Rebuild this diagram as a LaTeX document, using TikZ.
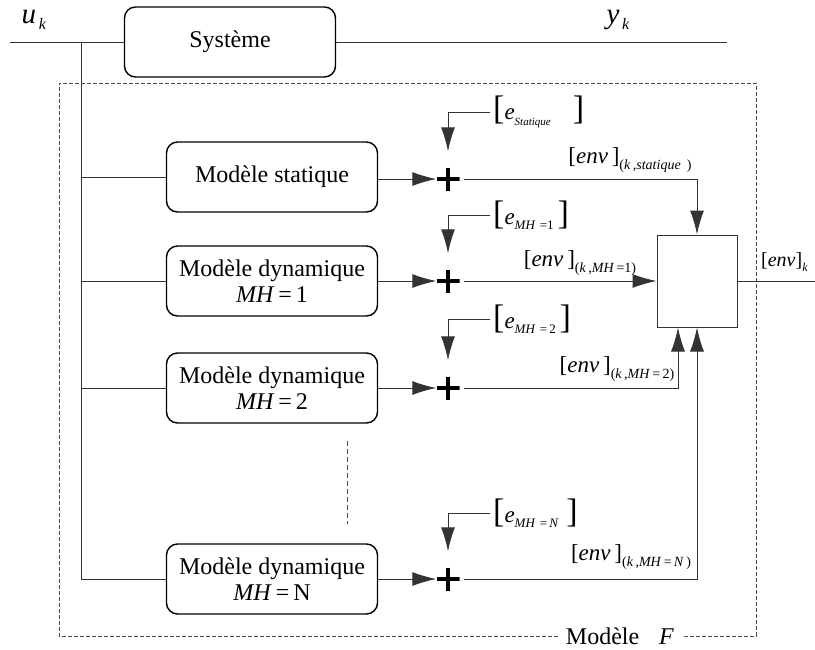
\documentclass[tikz,border=0pt]{standalone}
\usepackage{fontspec}
\setmainfont{Liberation Serif}
\usetikzlibrary{arrows.meta, positioning}
\newcommand{\lowtxt}[2][14]{\raisebox{-0.5ex}{\fontsize{#1}{#1}\selectfont #2}}
\newcommand{\bigbr}[1]{{\fontsize{34}{34}\selectfont #1}}
\tikzset{blocnode/.style={draw=black, line width=1.4pt, rounded corners=11pt, minimum width=211pt, minimum height=70pt, align=center, font=\fontsize{24}{26}\selectfont},
sumnode/.style={minimum size=23pt, inner sep=0pt, path picture={\draw[line width=4.5pt] (path picture bounding box.west) -- (path picture bounding box.east) (path picture bounding box.north) -- (path picture bounding box.south);}},
sig/.style={draw=black!80, line width=1pt},
sigarrow/.style={sig, -{Latex[length=24pt,width=14pt]}},
labnode/.style={font=\fontsize{23}{23}\selectfont, inner sep=0pt},
framebox/.style={draw=black!70, line width=0.8pt, dash pattern=on 4pt off 2pt}}

\begin{document}
\begin{tikzpicture}[x=1pt, y=-1pt]
\useasboundingbox (0,0) rectangle (815,649);

% Systeme
\coordinate (uin) at (10,42);
\coordinate (br) at (81,42);
\coordinate (yout) at (727,42);
\node[blocnode] (sys) at (230,42) {Système};
\node[labnode, font=\fontsize{29}{29}\selectfont] (uk) at (34,20) {\textit{u}\lowtxt[16]{\,\textit{k}}};
\node[labnode, font=\fontsize{29}{29}\selectfont] (yk) at (618,20) {\textit{y}\lowtxt[16]{\,\textit{k}}};
\draw[sig] (uin) -- (sys.west);
\draw[sig] (sys.east) -- (yout);

% Models
\node[blocnode] (stat) at (272,177) {Modèle statique};
\node[sumnode] (pstat) at (448,179) {};
\draw[sig] (br |- stat.west) -- (stat.west);
\draw[sigarrow] (stat.east |- pstat) -- (pstat);
\foreach \n/\y in {1/281, 2/388, N/579} {
  \node[blocnode] (mh\n) at (272,\y) {Modèle dynamique\\ \textit{MH}\,=\,\n};
  \node[sumnode] (p\n) at (448,\y) {};
  \draw[sig] (br |- mh\n.west) -- (mh\n.west);
  \draw[sigarrow] (mh\n.east) -- (p\n);
}
\draw[sig] (br) -- (br |- mhN.west);
\draw[framebox, dash pattern=on 5pt off 3pt] ([xshift=75pt]mh2.south) -- ([xshift=75pt]mhN.north) [shorten <=17pt, shorten >=19pt];

% Errors
\node[labnode, anchor=west] (estat) at (493,112) {\bigbr{[}\textit{e}\lowtxt[11]{\textit{Statique}}\hspace{22pt}\bigbr{]}};
\node[labnode, anchor=west] (e1) at (493,215) {\bigbr{[}\textit{e}\lowtxt[13]{\textit{MH}\,\,=1}\,\bigbr{]}};
\node[labnode, anchor=west] (e2) at (493,319) {\bigbr{[}\textit{e}\lowtxt[13]{\textit{MH}\,\,=\,2}\,\bigbr{]}};
\node[labnode, anchor=west] (eN) at (493,513) {\bigbr{[}\textit{e}\lowtxt[13]{\textit{MH}\,\,=\,\textit{N}}\,\,\bigbr{]}};
\foreach \n in {stat,1,2,N}
  \draw[sigarrow, shorten >=16pt] ([xshift=-3pt]e\n.west) -| (p\n.north);

% Fusion
\node[draw=black!80, line width=1pt, minimum width=80pt, minimum height=92pt] (comb) at (697,281) {};
\coordinate (kout) at (815,281);
\draw[sigarrow, shorten <=4pt] (pstat.east) -| (comb.north);
\draw[sigarrow, shorten <=4pt] (p1.east) -- (comb.west);
\draw[sigarrow, shorten <=4pt] (p2.east) -| ([xshift=-19pt]comb.south);
\draw[sigarrow, shorten <=4pt] (pN.east) -| (comb.south);
\draw[sig] (comb.east) -- (kout);

\node[labnode] (envstat) at (630,160) {[\textit{env}\,]\lowtxt{(\textit{k}\,,\textit{statique}\;\,)}};
\node[labnode] (env1) at (580,263) {[\textit{env}\,]\lowtxt{(\textit{k}\,,\textit{MH}\,=1)}};
\node[labnode] (env2) at (617,369) {[\textit{env}\,]\lowtxt{(\textit{k}\,,\textit{MH}\,=\,2)}};
\node[labnode] (envN) at (631,557) {[\textit{env}\,]\lowtxt{(\textit{k}\,,\textit{MH}\,=\,\textit{N}\,)}};
\node[labnode, font=\fontsize{20}{20}\selectfont, anchor=west] (envk) at (761,262) {[\textit{env}]\lowtxt[12]{\textit{k}}};

% Cadre
\node[labnode, font=\fontsize{24}{24}\selectfont, inner xsep=8pt] (mf) at (620,636) {Modèle\hspace{20pt}\textit{F}};
\draw[framebox] (mf.west) -| (59,83) -| (756,636) -- (mf.east);
\end{tikzpicture}
\end{document}
